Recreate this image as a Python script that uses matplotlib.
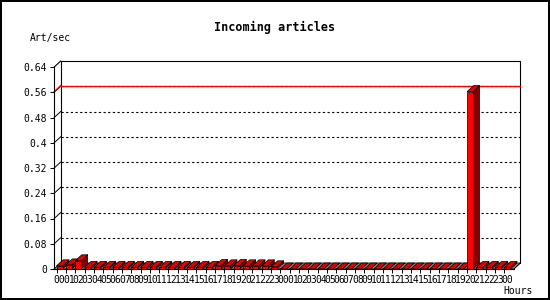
import matplotlib
matplotlib.use('Agg')
import matplotlib.pyplot as plt
from matplotlib.patches import Polygon
from matplotlib.collections import PolyCollection
import numpy as np

plt.rcParams['font.family'] = ['DejaVu Sans Mono', 'DejaVu Sans']

# ---- data ----
hours = ["00", "01", "02", "03", "04", "05", "06", "07", "08", "09", "10", "11",
         "12", "13", "14", "15", "16", "17", "18", "19", "20", "21", "22", "23",
         "00", "01", "02", "03", "04", "05", "06", "07", "08", "09", "10", "11",
         "12", "13", "14", "15", "16", "17", "18", "19", "20", "21", "22", "23",
         "00"]
values = [0.010, 0.013, 0.026, 0.005, 0.005, 0.005, 0.005, 0.005, 0.005, 0.005,
          0.005, 0.005, 0.005, 0.005, 0.005, 0.005, 0.005, 0.011, 0.010, 0.011,
          0.010, 0.010, 0.010, 0.007,
          0.0, 0.0, 0.0, 0.0, 0.0, 0.0, 0.0, 0.0, 0.0, 0.0,
          0.0, 0.0, 0.0, 0.0, 0.0, 0.0, 0.0, 0.0, 0.0, 0.0,
          0.562, 0.005, 0.005, 0.005, 0.005]
y_ticks = [0, 0.08, 0.16, 0.24, 0.32, 0.4, 0.48, 0.56, 0.64]
y_tick_labels = ["0", "0.08", "0.16", "0.24", "0.32", "0.4", "0.48", "0.56", "0.64"]
title = "Incoming articles"
y_title = "Art/sec"
x_title = "Hours"

# ---- figure ----
W, H = 550, 300
fig = plt.figure(figsize=(W / 100, H / 100), dpi=100)
fig.patch.set_facecolor('white')
fig.patch.set_edgecolor('black')
fig.patch.set_linewidth(1.6)

ax = fig.add_axes([54.2 / W, 31 / H, 459.5 / W, 202 / H])
n = len(values)
x = np.arange(n)
XL, XR = -0.25, n
YMAX = y_ticks[-1]
ax.set_xlim(XL, XR)
ax.set_ylim(0, YMAX)
ax.set_facecolor('white')

DX = 0.70     # depth in x (data units)
DY = 0.019    # depth in y (data units)
BW = 0.64     # bar front width

# back plane
ax.add_patch(Polygon([(XL + DX, DY), (XR + DX, DY), (XR + DX, YMAX + DY), (XL + DX, YMAX + DY)],
                     closed=True, fc='white', ec='black', lw=0.8, clip_on=False, zorder=0.5))
# grid lines (left wall diagonal + dotted on back plane)
for v in y_ticks[1:-1]:
    ax.plot([XL, XL + DX], [v, v + DY], color='black', lw=0.7, clip_on=False, zorder=1)
    ax.plot([XL + DX, XR + DX], [v + DY, v + DY], color='black', lw=0.8,
            ls=(0, (2, 2.2)), clip_on=False, zorder=1)
ax.plot([XL, XL + DX], [YMAX, YMAX + DY], color='black', lw=0.8, clip_on=False, zorder=1)
ax.plot([XL, XL + DX], [0, DY], color='black', lw=0.8, clip_on=False, zorder=1)
ax.plot([XR, XR + DX], [0, DY], color='black', lw=0.8, clip_on=False, zorder=1)

# max line
vmax = max(values)
ax.plot([XL, XL + DX], [vmax, vmax + DY], color='red', lw=1.0, clip_on=False, zorder=1.5)
ax.plot([XL + DX, XR + DX], [vmax + DY, vmax + DY], color='red', lw=1.0, clip_on=False, zorder=1.5)

# floor
ax.add_patch(Polygon([(0, 0), (XR, 0), (XR + DX, DY), (DX, DY)], closed=True,
                     fc='#808080', ec='black', lw=0.5, clip_on=False, zorder=2))

# bar sides and tops
polys, cols = [], []
for xi, v in zip(x, values):
    side = [(xi + BW, 0), (xi + BW + DX, DY), (xi + BW + DX, v + DY), (xi + BW, v)]
    top = [(xi, v), (xi + BW, v), (xi + BW + DX, v + DY), (xi + DX, v + DY)]
    polys += [side, top]
    cols += ['#800000', '#e00000']
pc = PolyCollection(polys, facecolors=cols, edgecolors='black', linewidths=0.5,
                    zorder=3, clip_on=False)
ax.add_collection(pc)
# bar fronts
ax.bar(x, values, width=BW, align='edge', color='#ff0000', edgecolor='black',
       linewidth=0.5, zorder=4, clip_on=False)

# spines
for s in ['top', 'right']:
    ax.spines[s].set_visible(False)
for s in ['left', 'bottom']:
    ax.spines[s].set_color('black')
    ax.spines[s].set_linewidth(0.8)
    ax.spines[s].set_zorder(5)

# ticks
ax.set_yticks(y_ticks)
ax.set_yticklabels(y_tick_labels)
ax.tick_params(axis='y', length=3, width=0.7, pad=2, labelsize=7, colors='black')
ax.set_xticks(x)
ax.set_xticklabels([])
ax.set_xticks(x + BW / 2, minor=True)
ax.set_xticklabels(hours, minor=True)
ax.tick_params(axis='x', which='major', length=3, width=0.7, direction='out')
ax.tick_params(axis='x', which='minor', length=0, pad=4.5, labelsize=7)

# texts
fig.text(0.5, 1 - 27 / H, title, ha='center', va='center', fontsize=8.5, fontweight='bold')
fig.text(30 / W, 1 - 38 / H, y_title, ha='left', va='center', fontsize=7)
fig.text(533 / W, 1 - 291.5 / H, x_title, ha='right', va='center', fontsize=7)

fig.savefig('out.png', dpi=100)
